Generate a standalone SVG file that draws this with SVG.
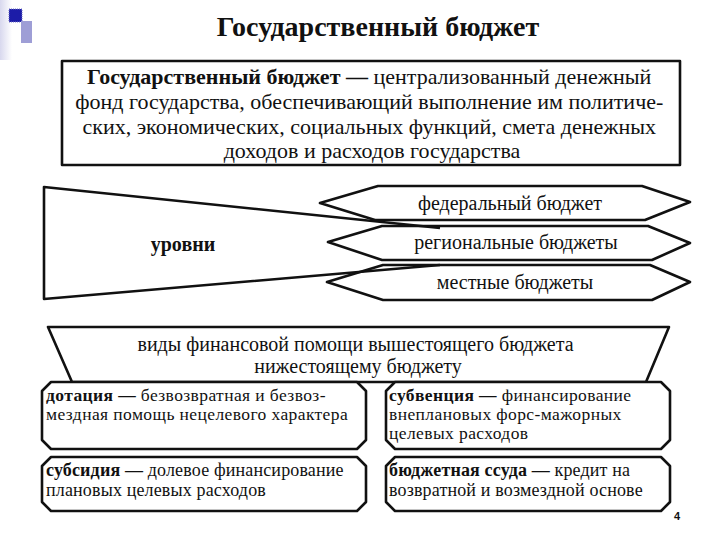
<svg xmlns="http://www.w3.org/2000/svg" width="720" height="540" viewBox="0 0 720 540">
<defs>
<linearGradient id="strip" x1="0" y1="0" x2="1" y2="0">
<stop offset="0" stop-color="#d8d8ee"/>
<stop offset="1" stop-color="#ffffff"/>
</linearGradient>
</defs>
<style>
.t{font-family:"Liberation Serif","Times New Roman",serif;fill:#111}
.b{font-weight:bold}
.ln{fill:none;stroke:#111;stroke-width:2.6;stroke-linejoin:round}
.box{fill:#fff;stroke:#111;stroke-width:2.6;stroke-linejoin:round}
.s1{font-size:17.5px;letter-spacing:0.4px}
.s2{font-size:18px;letter-spacing:0.15px}
</style>
<rect width="720" height="540" fill="#fff"/>
<rect x="0" y="0" width="12" height="60" fill="url(#strip)"/>
<g id="bullets">
<rect x="9" y="9" width="13" height="13" fill="#1c1ca8" stroke="#7070c8" stroke-width="1" stroke-dasharray="1,1"/>
<rect x="21" y="21" width="11" height="22" fill="#9e9ed6"/>
</g>
<g id="title">
<text class="t b" x="378" y="36" font-size="28" text-anchor="middle">Государственный  бюджет</text>
</g>
<g id="definition">
<rect class="box" x="62" y="61" width="618" height="104" stroke-width="3.2"/>
<text class="t" font-size="22" text-anchor="middle">
<tspan x="372" y="84"><tspan class="b">Государственный бюджет —</tspan> централизованный денежный</tspan>
<tspan x="372" y="109">фонд государства, обеспечивающий выполнение им политиче-</tspan>
<tspan x="372" y="134">ских, экономических, социальных функций, смета денежных</tspan>
<tspan x="372" y="158">доходов и расходов государства</tspan>
</text>
</g>
<g id="connectors">
<polyline class="ln" points="440,228 44,187 44,299 440,265"/>
</g>
<g id="levels">
<text class="t b" x="183" y="251" font-size="20" text-anchor="middle">уровни</text>
</g>
<g id="federal">
<polygon class="ln" points="320,203 378,186 642,186 690,202 645,220 375,220"/>
<text class="t" x="510" y="210" font-size="20" text-anchor="middle">федеральный бюджет</text>
</g>
<g id="regional">
<polygon class="ln" points="328,242 382,226 648,226 690,243 652,260 382,260"/>
<text class="t" x="516" y="249" font-size="20" text-anchor="middle">региональные бюджеты</text>
</g>
<g id="local">
<polygon class="ln" points="327,282 383,265 650,265 690,282 652,300 383,300"/>
<text class="t" x="515" y="289" font-size="20" text-anchor="middle">местные бюджеты</text>
</g>
<g id="aid-types">
<polygon class="box" points="48,327 669,327 646,382 72,382"/>
<text class="t" font-size="20" text-anchor="middle">
<tspan x="358" y="351">виды финансовой помощи вышестоящего бюджета</tspan>
<tspan x="358" y="373">нижестоящему бюджету</tspan>
</text>
</g>
<g id="dotation">
<path class="box" d="M51,382 H357 L366,391 V440 L357,449 H51 L42,440 V391 Z"/>
<text class="t s1">
<tspan x="46" y="401"><tspan class="b">дотация —</tspan> безвозвратная и безвоз-</tspan>
<tspan x="46" y="420">мездная помощь нецелевого характера</tspan>
</text>
</g>
<g id="subvention">
<path class="box" d="M395,382 H661 L670,391 V440 L661,449 H395 L386,440 V391 Z"/>
<text class="t s1">
<tspan x="389" y="401"><tspan class="b">субвенция —</tspan> финансирование</tspan>
<tspan x="389" y="420">внеплановых форс-мажорных</tspan>
<tspan x="389" y="439">целевых расходов</tspan>
</text>
</g>
<g id="subsidy">
<path class="box" d="M51,457 H357 L366,466 V502 L357,511 H51 L42,502 V466 Z"/>
<text class="t s2">
<tspan x="46" y="476"><tspan class="b">субсидия —</tspan> долевое финансирование</tspan>
<tspan x="46" y="496">плановых целевых расходов</tspan>
</text>
</g>
<g id="loan">
<path class="box" d="M395,457 H661 L670,466 V502 L661,511 H395 L386,502 V466 Z"/>
<text class="t s2">
<tspan x="389" y="476"><tspan class="b">бюджетная ссуда —</tspan> кредит на</tspan>
<tspan x="389" y="496">возвратной и возмездной основе</tspan>
</text>
</g>
<g id="page">
<text x="677" y="520" font-family="Liberation Sans, Arial, sans-serif" font-weight="bold" font-size="11" text-anchor="middle" fill="#111">4</text>
</g>
</svg>
